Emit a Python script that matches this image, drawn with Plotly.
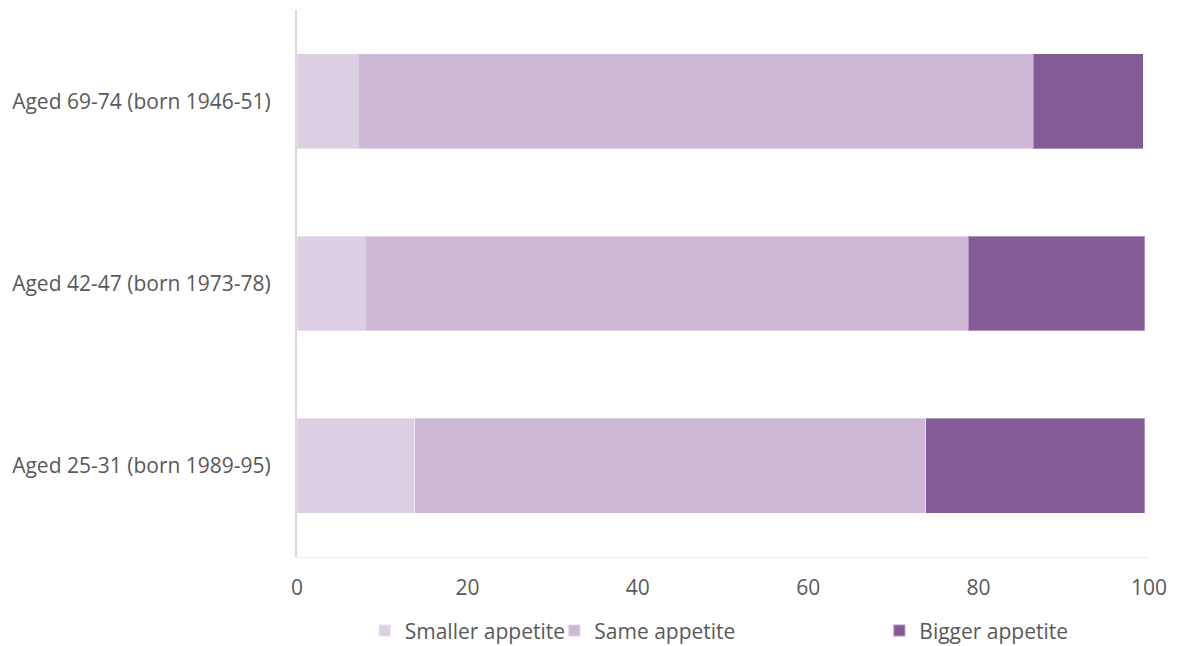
import plotly.graph_objects as go

categories = ["Aged 25-31 (born 1989-95)", "Aged 42-47 (born 1973-78)", "Aged 69-74 (born 1946-51)"]
smaller = [13.8, 8.0, 7.2]
same = [60.0, 70.8, 79.2]
bigger = [25.7, 20.7, 12.9]
x_ticks = [0, 20, 40, 60, 80, 100]

series = [
    ("Smaller appetite", smaller, "#dccfe3", "legend", 0.0795),
    ("Same appetite", same, "#cdb8d5", "legend2", 0.302),
    ("Bigger appetite", bigger, "#845b97", "legend3", 0.6835),
]

fig = go.Figure()
for name, vals, color, leg, _ in series:
    fig.add_trace(go.Bar(
        y=categories, x=vals, name=name, orientation="h",
        marker=dict(color=color, line=dict(color="rgba(255,255,255,0.35)", width=1)),
        width=0.52, legend=leg,
    ))

font = dict(family="Open Sans, sans-serif", size=21, color="#595959")
legend_common = dict(orientation="h", y=-0.135, yanchor="middle", xanchor="left",
                     font=font, itemwidth=30, bgcolor="rgba(0,0,0,0)",
                     tracegroupgap=0, itemsizing="constant")
fig.update_layout(
    barmode="stack",
    width=1178, height=646,
    margin=dict(l=297, r=29, t=10, b=89, autoexpand=False),
    plot_bgcolor="white", paper_bgcolor="white",
    font=font,
    showlegend=True,
    legend=dict(x=series[0][4], **legend_common),
    legend2=dict(x=series[1][4], **legend_common),
    legend3=dict(x=series[2][4], **legend_common),
    xaxis=dict(range=[0, 100], tickvals=x_ticks, showgrid=False, zeroline=False,
               showline=True, linecolor="#eeeeee", linewidth=1, mirror=False,
               ticks="", ticklabelstandoff=12, fixedrange=True, automargin=False),
    yaxis=dict(showgrid=False, zeroline=False, showline=True, linecolor="#d9d9d9",
               linewidth=2, ticks="", ticklabelstandoff=20, range=[-0.5, 2.5],
               automargin=False),
)
fig.write_html("out.html")
